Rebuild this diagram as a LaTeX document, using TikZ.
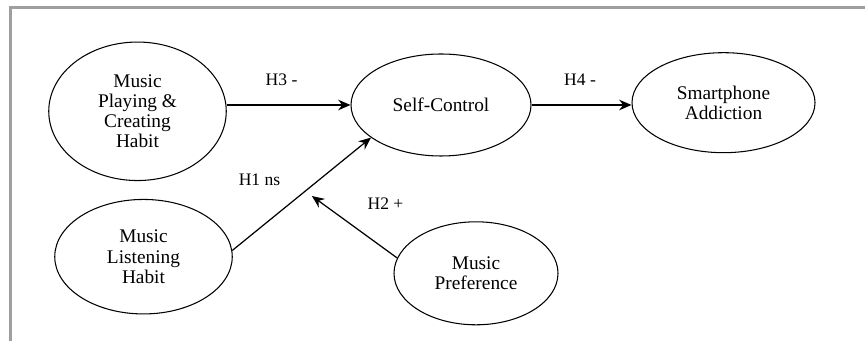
\documentclass[tikz,border=0pt]{standalone}
\usepackage{fontspec}
\setmainfont{Liberation Serif}
\usetikzlibrary{shapes.geometric, arrows.meta}

\begin{document}
\begin{tikzpicture}[line width=0.6pt]
      \useasboundingbox (0, 0) rectangle (17.3, 6.82);
      % frame, only top and left side show
      \draw[gray!75, line width=1.4pt] (0.214, 0) -- (0.214, 6.67) -- (17.3, 6.67);
      \begin{scope}[
        every node/.style={
        draw,
        line width=0.6pt,
        shape=ellipse,
        inner sep=0pt,
        align=center,
        font=\fontsize{11}{11.4}\selectfont,
        }
      ]
        \node[minimum width=3.55cm, minimum height=2.77cm] (play) at (2.75, 4.594) {Music\\Playing \&\\Creating\\Habit};
        \node[minimum width=3.6cm, minimum height=2.04cm] (self) at (8.82, 4.72) {Self-Control};
        \node[minimum width=3.66cm, minimum height=2.0cm] (phone) at (14.47, 4.766) {Smartphone\\Addiction};
        \node[minimum width=3.55cm, minimum height=2.29cm] (listen) at (2.87, 1.686) {Music\\Listening\\Habit};
        \node[minimum width=3.28cm, minimum height=2.06cm] (pref) at (9.52, 1.354) {Music\\Preference};
      \end{scope}

      \coordinate (mod) at (6.238, 2.9);

      \begin{scope}[line width=0.7pt, -{Stealth[length=7pt, width=6pt]}]
        \draw (play.east |- self.west) -- (self.west);
        \draw (self.east) -- (self.east -| phone.west);
        \draw (listen.4) -- (self.205);
        \draw (pref.169) -- (mod);
      \end{scope}

      \begin{scope}[every node/.style={font=\fontsize{10}{11}\selectfont}]
        \node (h3) at (5.63, 5.22) {H3 -};
        \node (h4) at (11.6, 5.22) {H4 -};
        \node (h1) at (5.19, 3.22) {H1 ns};
        \node (h2) at (7.71, 2.75) {H2 +};
      \end{scope}
    \end{tikzpicture}
\end{document}
